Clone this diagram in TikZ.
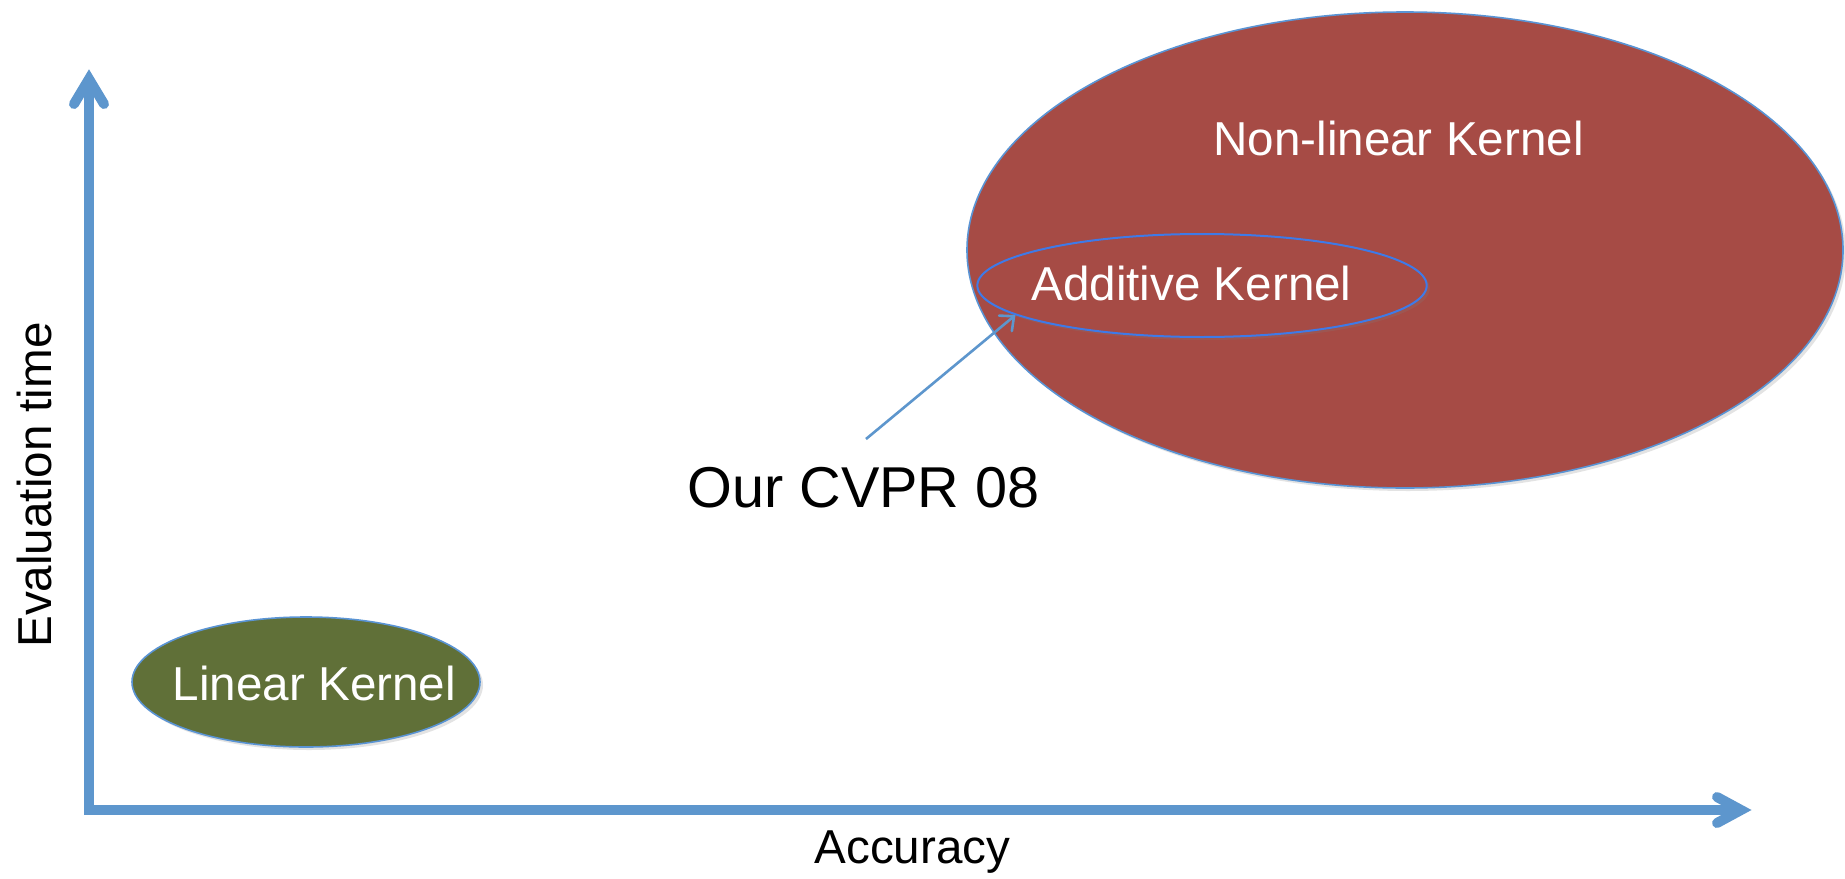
\documentclass[tikz,border=0pt]{standalone}
\usepackage{fontspec}
\setmainfont{Liberation Sans}
\usetikzlibrary{shapes.geometric,arrows.meta,shadows}
\definecolor{axblue}{RGB}{93,150,205}
\definecolor{kred}{RGB}{166,75,69}
\definecolor{kgreen}{RGB}{96,112,56}
\definecolor{rimblue}{RGB}{90,148,212}
\definecolor{addblue}{RGB}{62,122,232}
\begin{document}
\begin{tikzpicture}[x=0.5pt,y=-0.5pt,
  axisline/.style={draw=axblue,line width=5pt,line join=miter},
  axisshadow/.style={draw=black,opacity=0.14,line width=5pt,line join=miter},
  axishead/.style={draw=axblue,line width=5pt,line cap=round,line join=miter},
  blob/.style={ellipse,inner sep=0pt,line width=0.8pt,
    drop shadow={shadow xshift=1.5pt,shadow yshift=-1.5pt,opacity=0.22}},
  inlbl/.style={text=white,anchor=base,inner sep=0pt,font=\fontsize{23.8pt}{28pt}\selectfont},
  axlbl/.style={text=black,anchor=base,inner sep=0pt},
  pointer/.style={draw=axblue,line width=1.3pt,
    -{Straight Barb[length=5.5pt,width=10pt,line cap=round]}}
]
\useasboundingbox[fill=white] (0,0) rectangle (1845,878);

% axes
\coordinate (origin) at (89,810);
\coordinate (ytop) at (89,79);
\coordinate (xend) at (1741,810);
\begin{scope}[xshift=1pt,yshift=-1.5pt]
\draw[axisshadow] (ytop) -- (origin) -- (xend);
\end{scope}
\draw[axisline] (ytop) -- (origin) -- (xend);
\draw[axishead] (74,104) -- (ytop) -- (104,104);
\draw[axishead] (1717,797) -- (xend) -- (1717,823);

% axis labels
\node[axlbl,font=\fontsize{23.8pt}{28pt}\selectfont] (acc) at (912.5,863) {Accuracy};
\node[axlbl,font=\fontsize{23.8pt}{28pt}\selectfont,rotate=90] (evt) at (51,485) {Evaluation time};

% ellipses
\node[blob,fill=kred,draw=rimblue,minimum width=438pt,minimum height=238pt] (nonlin) at (1405,250) {};
\node[blob,fill=kred,draw=addblue,line width=1pt,minimum width=224.7pt,minimum height=51.5pt] (add) at (1202,285.5) {};
\node[blob,fill=kgreen,draw=rimblue,minimum width=174pt,minimum height=65pt] (lin) at (306,682) {};

% labels inside
\node[inlbl] (nonlinlbl) at (1398.5,155) {Non-linear Kernel};
\node[inlbl] (addlbl) at (1191.5,300) {Additive Kernel};
\node[inlbl] (linlbl) at (314.5,700) {Linear Kernel};

% our CVPR 08
\node[axlbl,font=\fontsize{28.8pt}{34pt}\selectfont] (cvpr) at (863.5,507) {Our CVPR 08};
\coordinate (cvprstart) at (866,439);
\draw[pointer] (cvprstart) -- (add.189);
\end{tikzpicture}
\end{document}
